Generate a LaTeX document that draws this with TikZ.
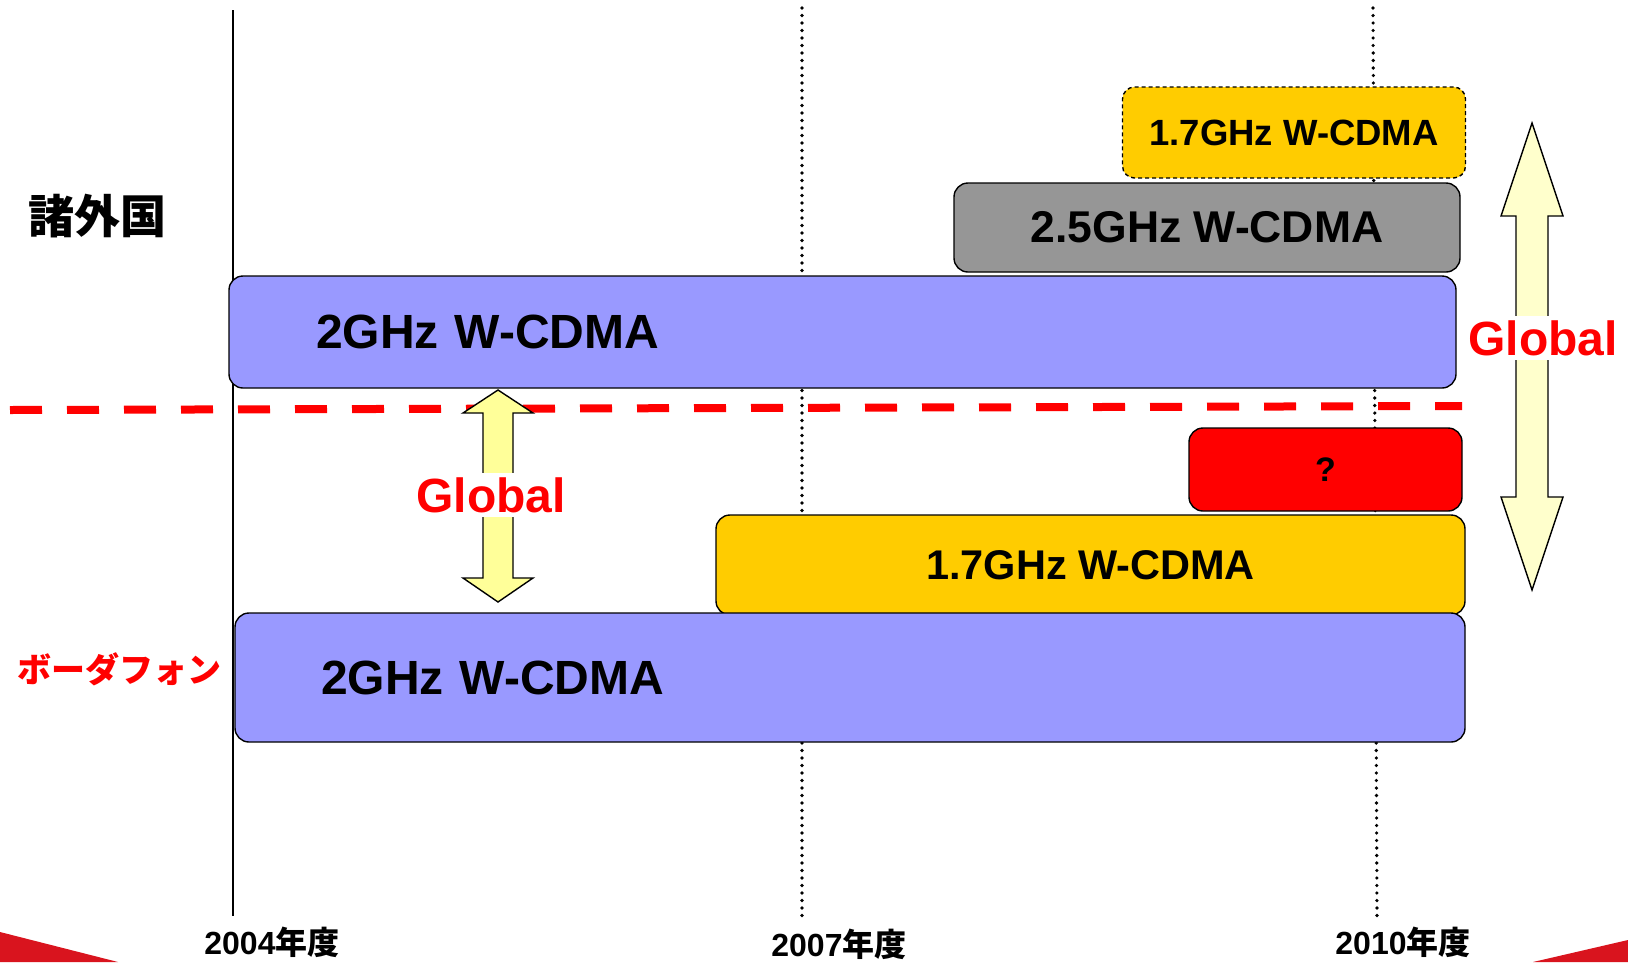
\documentclass[tikz,border=0pt]{standalone}
\usepackage{fontspec}
\setmainfont{Liberation Sans}
\newfontfamily\jpfont{Noto Sans CJK JP}
\usetikzlibrary{positioning}
\definecolor{bandblue}{HTML}{9999FF}
\definecolor{bandgray}{HTML}{969696}
\definecolor{bandgold}{HTML}{FFCC00}
\definecolor{arrowyel}{HTML}{FFFF99}
\definecolor{arrowpale}{HTML}{FFFFCC}
\definecolor{slidered}{HTML}{D9141E}
\tikzset{
  banda/.style={rectangle,rounded corners=14pt,draw=black,line width=1.4pt,
    inner sep=0pt,align=center},
  fs/.style={font=\bfseries\fontsize{#1}{#1}\selectfont},
  linea/.style={line width=2pt,draw=black},
  puntos/.style={line width=3.6pt,line cap=round,dash pattern=on 0pt off 7.5pt},
  corte/.style={line width=8pt,draw=red,dash pattern=on 32pt off 25pt},
  flecha/.style={draw=black,line width=1.4pt,line join=miter},
  global/.style={fs=48,text=red,fill=white,inner xsep=9pt,inner ysep=4pt},
  region/.style={font=\jpfont\bfseries\fontsize{#1}{#1}\selectfont},
  anio/.style={fs=32}
}
\begin{document}
\begin{tikzpicture}[x=1pt,y=-1pt]
\useasboundingbox (0,0) rectangle (1628,962);
% slide corners
\fill[slidered] (0,932) -- (118,962) -- (0,962) -- cycle;
\fill[slidered] (1533,962) -- (1628,940) -- (1628,962) -- cycle;
% time axis
\coordinate (t04a) at (233,10);  \coordinate (t04b) at (233,916);
\coordinate (t07a) at (802,8);   \coordinate (t07b) at (802,918);
\coordinate (t10a) at (1373,8);  \coordinate (t10b) at (1377,916);
\draw[linea] (t04a) -- (t04b);
\draw[puntos] (t07a) -- (t07b);
\draw[puntos] (t10a) -- (t10b);
\coordinate (cortea) at (10,410); \coordinate (corteb) at (1462,406);
\draw[corte] (cortea) -- (corteb);
% bands, other countries
\node[banda,fill=bandgold,dashed,dash pattern=on 4pt off 3pt,fs=36.5,
  minimum width=343pt,minimum height=91pt,rounded corners=12pt] (ext17) at (1294,132.5) {1.7GHz W-CDMA};
\node[banda,fill=bandgray,fs=44.5,minimum width=506pt,minimum height=89pt] (ext25) at (1207,227.5) {2.5GHz W-CDMA};
\node[banda,fill=bandblue,fs=48,minimum height=112pt,text width=1053pt,inner xsep=87pt,align=left] (ext2) at (842.5,332) {2GHz W-CDMA};
% bands, Vodafone
\node[banda,fill=red,fs=34,minimum width=273pt,minimum height=83pt] (vfq) at (1325.5,469.5) {?};
\node[banda,fill=bandgold,fs=41.5,minimum width=749pt,minimum height=100pt] (vf17) at (1090.5,565) {1.7GHz W-CDMA};
\node[banda,fill=bandblue,fs=48,minimum height=129pt,text width=1058pt,inner xsep=86pt,align=left] (vf2) at (850,677.5) {2GHz W-CDMA};
% arrows
\draw[flecha,fill=arrowyel] (498,390) -- (533,413) -- (513,413) -- (513,578) -- (533,578) -- (498,602)
  -- (463,578) -- (483,578) -- (483,413) -- (463,413) -- cycle;
\draw[flecha,fill=arrowpale] (1532,123) -- (1563,216) -- (1548,216) -- (1548,497) -- (1563,497) -- (1532,590)
  -- (1501,497) -- (1516,497) -- (1516,216) -- (1501,216) -- cycle;
\node[global] (globvf) at (491,495) {Global};
\node[global] (globext) at (1543,338) {Global};
% labels
\node[region=46] (paises) at (97,216) {諸外国};
\node[region=34,text=red] (voda) at (119,669) {ボーダフォン};
\node[anio] (a04) at (272,942) {2004\jpfont 年度};
\node[anio] (a07) at (839,944) {2007\jpfont 年度};
\node[anio] (a10) at (1403,942) {2010\jpfont 年度};
\end{tikzpicture}
\end{document}
